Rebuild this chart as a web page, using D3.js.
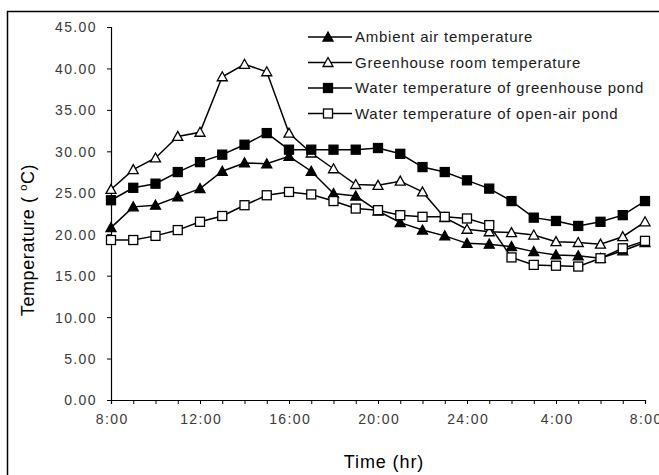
<!DOCTYPE html>
<html lang="en">
<head>
<meta charset="UTF-8">
<title>Temperature</title>
<style>
  body { margin: 0; background: #fff; }
  text { font-family: "Liberation Sans", Arial, sans-serif; }
</style>
</head>
<body>
<script src="https://cdn.jsdelivr.net/npm/d3@7/dist/d3.min.js"></script>
<script>
  // hours from 8:00 to 8:00 next day
  var hours = d3.range(0, 25);
  var hourLabels = {0: "8:00", 4: "12:00", 8: "16:00", 12: "20:00", 16: "24:00", 20: "4:00", 24: "8:00"};
  var yTicks = [0, 5, 10, 15, 20, 25, 30, 35, 40, 45];

  var ambient = [20.8, 23.3, 23.5, 24.5, 25.5, 27.6, 28.6, 28.5, 29.4, 27.6, 24.9, 24.6, 22.8, 21.4, 20.5, 19.8,
                 18.9, 18.8, 18.5, 17.9, 17.5, 17.4, 17.1, 18.0, 19.0];
  var greenhouseRoom = [25.4, 27.8, 29.2, 31.8, 32.3, 39.0, 40.5, 39.6, 32.2, 29.8, 27.9, 26.0, 25.9, 26.4, 25.1, 22.0,
                        20.6, 20.3, 20.2, 19.9, 19.1, 19.0, 18.8, 19.7, 21.5];
  var greenhousePond = [24.1, 25.6, 26.1, 27.5, 28.7, 29.6, 30.8, 32.2, 30.2, 30.2, 30.2, 30.2, 30.4, 29.7, 28.1, 27.5,
                        26.5, 25.5, 24.0, 22.0, 21.6, 21.0, 21.5, 22.3, 24.0];
  var openAirPond = [19.3, 19.3, 19.8, 20.5, 21.5, 22.2, 23.5, 24.7, 25.1, 24.8, 24.0, 23.1, 22.9, 22.3, 22.1, 22.1,
                     21.9, 21.1, 17.2, 16.3, 16.2, 16.1, 17.1, 18.3, 19.2];

  var series = [
    {name: "Ambient air temperature", values: ambient, shape: "triangle", fill: "#000"},
    {name: "Greenhouse room temperature", values: greenhouseRoom, shape: "triangle", fill: "#fff"},
    {name: "Water temperature of greenhouse pond", values: greenhousePond, shape: "square", fill: "#000"},
    {name: "Water temperature of open-air pond", values: openAirPond, shape: "square", fill: "#fff"}
  ];

  var width = 659, height = 475;
  var svg = d3.select("body").append("svg")
    .attr("width", width)
    .attr("height", height);

  // outer frame
  svg.append("rect")
    .attr("x", 7.5).attr("y", 11.5)
    .attr("width", 660).attr("height", 480)
    .attr("fill", "none").attr("stroke", "#000").attr("stroke-width", 1.5);

  var x = d3.scaleLinear().domain([0, 24]).range([111, 645]);
  var y = d3.scaleLinear().domain([0, 45]).range([400, 27]);

  var xAxis = d3.axisBottom(x)
    .tickValues(hours)
    .tickSize(4)
    .tickFormat(function(d) { return hourLabels[d] || ""; });
  var yAxis = d3.axisLeft(y)
    .tickValues(yTicks)
    .tickSize(4)
    .tickFormat(d3.format(".2f"));

  var gx = svg.append("g")
    .attr("transform", "translate(0,400)")
    .call(xAxis);
  var gy = svg.append("g")
    .attr("transform", "translate(111,0)")
    .call(yAxis);

  [gx, gy].forEach(function(g) {
    g.selectAll(".domain").attr("stroke", "#000").attr("stroke-width", 1.2);
    g.selectAll(".tick line").attr("stroke", "#000");
    g.selectAll(".tick text")
      .attr("font-size", 14)
      .attr("fill", "#3a3a3a")
      .style("letter-spacing", "1.4px")
      .style("font-family", "Liberation Sans, Arial, sans-serif");
  });
  gx.selectAll(".tick text").attr("y", 24).attr("dy", 0).attr("dx", 0.7);
  gy.selectAll(".tick text").attr("x", -14).attr("dy", "0.35em");

  var line = d3.line()
    .x(function(d, i) { return x(i); })
    .y(function(d) { return y(d); });

  function drawMarker(g, s, cx, cy) {
    if (s.shape === "triangle") {
      g.append("path")
        .attr("d", "M" + cx + "," + (cy - 5) + "L" + (cx + 5) + "," + (cy + 4) + "L" + (cx - 5) + "," + (cy + 4) + "Z")
        .attr("fill", s.fill).attr("stroke", "#000").attr("stroke-width", 1.3);
    } else {
      g.append("rect")
        .attr("x", cx - 4.5).attr("y", cy - 4.5)
        .attr("width", 9).attr("height", 9)
        .attr("fill", s.fill).attr("stroke", "#000").attr("stroke-width", 1.3);
    }
  }

  series.forEach(function(s) {
    svg.append("path")
      .datum(s.values)
      .attr("d", line)
      .attr("fill", "none")
      .attr("stroke", "#000")
      .attr("stroke-width", 1.5);
  });
  series.forEach(function(s) {
    var g = svg.append("g");
    s.values.forEach(function(v, i) {
      drawMarker(g, s, x(i), y(v));
    });
  });

  // legend
  var legend = svg.append("g");
  series.forEach(function(s, i) {
    var ly = 37 + i * 25.5;
    legend.append("line")
      .attr("x1", 308).attr("x2", 352)
      .attr("y1", ly).attr("y2", ly)
      .attr("stroke", "#000").attr("stroke-width", 1.5);
    drawMarker(legend, s, 328, ly);
    legend.append("text")
      .attr("x", 355).attr("y", ly + 5.3)
      .attr("font-size", 15)
      .attr("fill", "#1a1a1a")
      .style("letter-spacing", "0.75px")
      .text(s.name);
  });

  // axis titles
  svg.append("text")
    .attr("x", 384).attr("y", 468)
    .attr("text-anchor", "middle")
    .attr("font-size", 18)
    .attr("fill", "#000")
    .style("letter-spacing", "0.9px")
    .text("Time (hr)");

  var yt = svg.append("text")
    .attr("transform", "translate(34,240) rotate(-90)")
    .attr("text-anchor", "middle")
    .attr("font-size", 18)
    .attr("fill", "#000")
    .style("letter-spacing", "0.6px");
  yt.append("tspan").text("Temperature ( ");
  yt.append("tspan").attr("font-size", 11).attr("dy", -7).text("o");
  yt.append("tspan").attr("dy", 7).text("C)");
</script>
</body>
</html>
